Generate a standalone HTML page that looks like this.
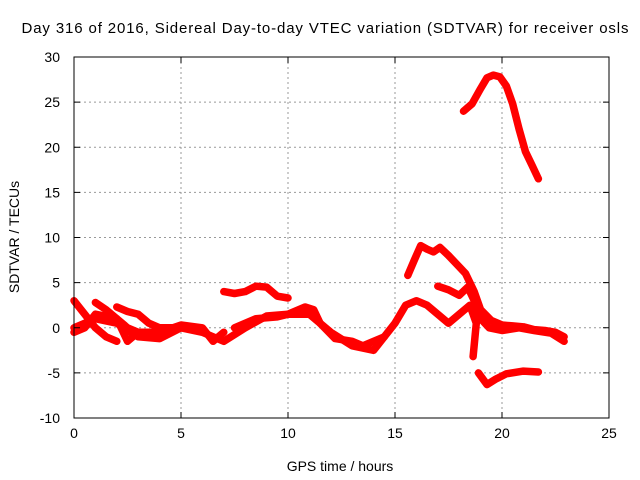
<!DOCTYPE html>
<html><head><meta charset="utf-8"><style>
body{margin:0;background:#fff}
svg{display:block;font-family:"Liberation Sans",sans-serif}
</style></head><body>
<svg id="chart" width="640" height="480" viewBox="0 0 640 480">
<text x="325" y="33" font-size="15" text-anchor="middle" textLength="607" lengthAdjust="spacing">Day 316 of 2016, Sidereal Day-to-day VTEC variation (SDTVAR) for receiver osls</text>
<text x="340" y="471" font-size="14" text-anchor="middle">GPS time / hours</text>
<text transform="translate(19,237) rotate(-90)" font-size="14" text-anchor="middle">SDTVAR / TECUs</text>
<g id="grid"></g><g id="series"></g><g id="axes"></g>
</svg>
<script>
const xTicks=[0,5,10,15,20,25];
const yTicks=[-10,-5,0,5,10,15,20,25,30];
const s1x=[18.2,18.6,19,19.3,19.6,19.9,20.2,20.5,20.8,21.1,21.4,21.7];
const s1y=[24,24.8,26.5,27.7,28,27.8,26.8,24.8,22,19.5,18,16.5];
const s2x=[15.6,15.9,16.2,16.5,16.8,17.1,17.5,17.9,18.3,18.7,19,19.5,20,20.5,21,21.5,22,22.5,22.9];
const s2y=[5.8,7.5,9.1,8.7,8.4,8.9,8,7,6,4,2,0.8,0.3,0.2,0.1,-0.2,-0.3,-0.5,-1];
const s3x=[17,17.5,18,18.4,18.7,19,19.4,20,20.8,21.5,22.3,22.9];
const s3y=[4.6,4.2,3.6,4.5,3,1,0,-0.3,0,-0.3,-0.6,-1.5];
const s4x=[18.9,19.3,19.7,20.2,21,21.7];
const s4y=[-5,-6.3,-5.7,-5.1,-4.8,-4.9];
const s5x=[0,1,2,3,4,5,6,7,8,9,10,11,12,13,14,15,15.5,16,16.5,17,17.5,18,18.5,18.8,18.65];
const s5y=[0,1,0.5,-1,-1.2,0,-0.5,-1.5,0,1.3,1.5,1.5,-0.5,-2,-2.5,0.5,2.5,3,2.5,1.5,0.5,1.5,2.5,0.5,-3.2];
const s6x=[7,7.5,8,8.5,9,9.5,10];
const s6y=[4,3.8,4,4.6,4.5,3.5,3.3];
const s7x=[0,0.5,1,1.5,2];
const s7y=[3,1.5,0,-1,-1.5];
const s8x=[1,1.5,2,2.5,3,3.5];
const s8y=[2.8,2,1,0,-0.5,-1];
const s9x=[2,2.5,3,3.5,4,5];
const s9y=[2.3,1.8,1.5,0.5,0,0];
const s10x=[0,0.5,1,2,2.5,3,4,5,6,6.5,7];
const s10y=[-0.5,0,1.5,1,-1.5,-0.5,-0.5,0.3,0,-1.5,-0.5];
const s11x=[7.5,8.5,9.5,10,10.8,11.2,11.5,12.2,13,13.5,14.5];
const s11y=[0,1,1.2,1.5,2.3,2,0.5,-1.2,-1.5,-2,-1];
const seriesX=[s1x,s2x,s3x,s4x,s5x,s6x,s7x,s8x,s9x,s10x,s11x];
const seriesY=[s1y,s2y,s3y,s4y,s5y,s6y,s7y,s8y,s9y,s10y,s11y];
const X0=74,X1=609,Y0=418,Y1=57;
const sx=v=>X0+(v-0)/(25-0)*(X1-X0);
const sy=v=>Y0-(v+10)/(40)*(Y0-Y1);
const NS="http://www.w3.org/2000/svg";
function mk(t,a,p){const e=document.createElementNS(NS,t);for(const k in a)e.setAttribute(k,a[k]);p.appendChild(e);return e;}
const grid=document.getElementById('grid'),axes=document.getElementById('axes'),ser=document.getElementById('series');
xTicks.forEach(t=>{const x=sx(t);
 if(t>0&&t<25){const g=mk('line',{x1:x,x2:x,y1:Y1,y2:Y0,stroke:'#999','stroke-dasharray':'2,3'},grid);
 
 }
 mk('line',{x1:x,x2:x,y1:Y0,y2:Y0-6,stroke:'#000'},axes);mk('line',{x1:x,x2:x,y1:Y1,y2:Y1+6,stroke:'#000'},axes);
 const l=mk('text',{x:x,y:Y0+20,'font-size':14,'text-anchor':'middle'},axes);l.textContent=t;
 
 });
yTicks.forEach(t=>{const y=sy(t);
 if(t>-10&&t<30){const g=mk('line',{x1:X0,x2:X1,y1:y,y2:y,stroke:'#999','stroke-dasharray':'2,3'},grid);
 
 }
 mk('line',{x1:X0,x2:X0+6,y1:y,y2:y,stroke:'#000'},axes);mk('line',{x1:X1,x2:X1-6,y1:y,y2:y,stroke:'#000'},axes);
 const l=mk('text',{x:X0-14,y:y+5,'font-size':14,'text-anchor':'end'},axes);l.textContent=t;
 
 });
const fr=mk('rect',{x:X0,y:Y1,width:X1-X0,height:Y0-Y1,fill:'none',stroke:'#000'},axes);


seriesX.forEach((xs,i)=>{const ys=seriesY[i];
 const pts=xs.map((v,j)=>sx(v).toFixed(1)+','+sy(ys[j]).toFixed(1)).join(' ');
 const p=mk('polyline',{points:pts,fill:'none',stroke:'#f00','stroke-width':7.5,'stroke-linejoin':'round','stroke-linecap':'round'},ser);
 
 });
</script>
</body></html>
